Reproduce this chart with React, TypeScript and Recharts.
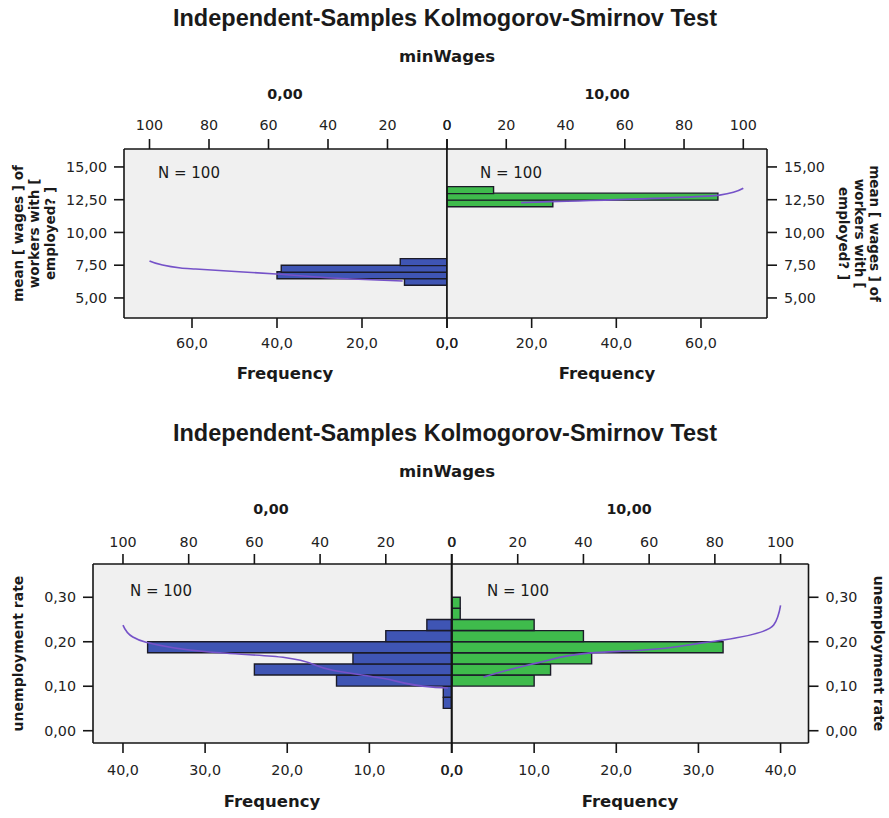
import React from "react";
import {
  Bar,
  CartesianGrid,
  ComposedChart,
  Line,
  ReferenceLine,
  XAxis,
  YAxis,
} from "recharts";

// mean wages, histogram per minWages group (bin start, count)
const wageBinWidth = 0.5;
const wageBins0 = [6.0, 6.5, 7.0, 7.5];
const wageCounts0 = [10, 40, 39, 11];
const wageBins10 = [12.0, 12.5, 13.0];
const wageCounts10 = [25, 64, 11];

// cumulative percent curves for mean wages
const wageCurvePct0 = [14.9, 31.8, 57.4, 84.5, 89.5, 100];
const wageCurveVal0 = [6.3, 6.45, 6.83, 7.21, 7.29, 7.82];
const wageCurvePct10 = [25, 35, 92, 100];
const wageCurveVal10 = [12.28, 12.35, 12.85, 13.37];

// unemployment rate, histogram per minWages group
const unempBinWidth = 0.025;
const unempBins0 = [0.05, 0.075, 0.1, 0.125, 0.15, 0.175, 0.2, 0.225];
const unempCounts0 = [1, 1, 14, 24, 12, 37, 8, 3];
const unempBins10 = [0.1, 0.125, 0.15, 0.175, 0.2, 0.225, 0.25, 0.275];
const unempCounts10 = [10, 12, 17, 33, 16, 10, 1, 1];

const unempCurvePct0 = [1.1, 5.6, 20.9, 36.1, 51.3, 74.5, 93, 97, 100];
const unempCurveVal0 = [0.096, 0.098, 0.118, 0.136, 0.165, 0.1775, 0.199, 0.2106, 0.2375];
const unempCurvePct10 = [9.6, 26.9, 42.2, 57.4, 75.6, 82.6, 97.9, 100];
const unempCurveVal10 = [0.1207, 0.154, 0.175, 0.181, 0.197, 0.204, 0.2375, 0.282];

// axis ticks
const pctTicks = [0, 20, 40, 60, 80, 100];
const wageFreqTicks = [0, 20, 40, 60];
const wageTicks = [5, 7.5, 10, 12.5, 15];
const unempFreqTicks = [0, 10, 20, 30, 40];
const unempTicks = [0, 0.1, 0.2, 0.3];

const groupLabels = ["0,00", "10,00"];
const title = "Independent-Samples Kolmogorov-Smirnov Test";

const BLUE = "#3f55b4";
const GREEN = "#3fbb4c";
const CURVE = "#7552c8";
const INK = "#151515";
const YW = 64;
const AXH = 40;
const GAP = 24; // room past the centre line so the 0 labels aren't clipped

const comma = (v: number, d: number) => v.toFixed(d).replace(".", ",");

type PanelProps = {
  side: "left" | "right";
  plotX: number;
  plotY: number;
  plotW: number;
  plotH: number;
  bins: number[];
  counts: number[];
  binWidth: number;
  curvePct: number[];
  curveVal: number[];
  color: string;
  freqMax: number;
  freqAt100: number;
  freqTicks: number[];
  yDomain: [number, number];
  yTicks: number[];
  topMargin: number;
  bottomMargin: number;
};

function Panel(p: PanelProps) {
  const left = p.side === "left";
  const bars = p.bins.map((b, i) => ({ mid: b + p.binWidth / 2, freq: p.counts[i] }));
  const curve = p.curvePct.map((c, i) => ({ pct: c, v: p.curveVal[i] }));
  const tick = { fill: "#222", fontSize: 14.3, fontFamily: "DejaVu Sans" };
  const line = { stroke: INK, strokeWidth: 1.6 };
  return (
    <div
      style={{
        position: "absolute",
        left: left ? p.plotX - YW : p.plotX - GAP,
        top: p.plotY - AXH,
      }}
    >
      <ComposedChart
        width={YW + p.plotW + GAP}
        height={AXH * 2 + p.plotH}
        layout="vertical"
        data={bars}
        barCategoryGap={0}
        barGap={0}
        margin={{ top: 0, bottom: 0, left: left ? 0 : GAP, right: left ? GAP : 0 }}
      >
        <XAxis
          xAxisId="freq"
          type="number"
          orientation="bottom"
          domain={[0, p.freqMax]}
          reversed={left}
          ticks={p.freqTicks}
          interval={0}
          allowDataOverflow
          tickFormatter={(v: number) => comma(v, 1)}
          height={AXH}
          tickSize={10}
          tickMargin={p.bottomMargin}
          tick={tick}
          tickLine={line}
          axisLine={line}
        />
        <XAxis
          xAxisId="pct"
          type="number"
          orientation="top"
          domain={[0, (100 * p.freqMax) / p.freqAt100]}
          reversed={left}
          ticks={pctTicks}
          interval={0}
          allowDataOverflow
          height={AXH}
          tickSize={10}
          tickMargin={p.topMargin}
          tick={tick}
          tickLine={line}
          axisLine={line}
        />
        <YAxis
          yAxisId="bin"
          type="number"
          dataKey="mid"
          orientation={left ? "left" : "right"}
          domain={p.yDomain}
          reversed
          ticks={p.yTicks}
          interval={0}
          allowDataOverflow
          tickFormatter={(v: number) => comma(v, 2)}
          width={YW}
          tickSize={10}
          tickMargin={7}
          tick={tick}
          tickLine={line}
          axisLine={line}
        />
        <YAxis yAxisId="curve" type="number" dataKey="v" domain={p.yDomain} reversed allowDataOverflow hide />
        <CartesianGrid xAxisId="freq" yAxisId="bin" horizontal={false} vertical={false} fill="#f0f0f0" />
        <Bar
          xAxisId="freq"
          yAxisId="bin"
          dataKey="freq"
          fill={p.color}
          stroke="#1b1b28"
          strokeWidth={1.4}
          isAnimationActive={false}
        />
        <Line
          xAxisId="pct"
          yAxisId="curve"
          data={curve}
          dataKey="pct"
          type="monotone"
          stroke={CURVE}
          strokeWidth={1.6}
          dot={false}
          isAnimationActive={false}
        />
        <ReferenceLine xAxisId="freq" yAxisId="bin" x={0} stroke={INK} strokeWidth={1.6} />
      </ComposedChart>
    </div>
  );
}

const bold = { fontFamily: "DejaVu Sans", fontWeight: 700, fill: "#1a1a1a" } as const;

function Labels() {
  const yLines = ["mean [ wages ] of", "workers with [", "employed? ]"];
  return (
    <svg
      width={889}
      height={818}
      style={{ position: "absolute", left: 0, top: 0, pointerEvents: "none" }}
    >
      {[0, 415].map((dy) => (
        <g key={dy}>
          <text x={445} y={26 + dy} textAnchor="middle" fontFamily="Liberation Sans" fontWeight={700} fontSize={23.5} fill="#1a1a1a">
            {title}
          </text>
          <text x={447} y={62 + dy} textAnchor="middle" fontSize={16.5} {...bold}>
            minWages
          </text>
        </g>
      ))}
      {/* group headers */}
      <text x={285} y={99} textAnchor="middle" fontSize={14.3} {...bold}>{groupLabels[0]}</text>
      <text x={607} y={99} textAnchor="middle" fontSize={14.3} {...bold}>{groupLabels[1]}</text>
      <text x={271} y={514} textAnchor="middle" fontSize={14.3} {...bold}>{groupLabels[0]}</text>
      <text x={629} y={514} textAnchor="middle" fontSize={14.3} {...bold}>{groupLabels[1]}</text>
      {/* Frequency titles */}
      <text x={285} y={379} textAnchor="middle" fontSize={16.5} {...bold}>Frequency</text>
      <text x={607} y={379} textAnchor="middle" fontSize={16.5} {...bold}>Frequency</text>
      <text x={272} y={807} textAnchor="middle" fontSize={16.5} {...bold}>Frequency</text>
      <text x={630} y={807} textAnchor="middle" fontSize={16.5} {...bold}>Frequency</text>
      {/* counts */}
      <g fontFamily="DejaVu Sans" fontSize={15} fill="#1a1a1a">
        <text x={158} y={178}>N = 100</text>
        <text x={480} y={178}>N = 100</text>
        <text x={130} y={596}>N = 100</text>
        <text x={487} y={596}>N = 100</text>
      </g>
      {/* y titles */}
      {yLines.map((t, i) => (
        <text key={"l" + i} transform={`translate(${22.5 + i * 16},233.5) rotate(-90)`} textAnchor="middle" fontSize={13.5} {...bold}>
          {t}
        </text>
      ))}
      {yLines.map((t, i) => (
        <text key={"r" + i} transform={`translate(${870 - i * 15.5},233.5) rotate(90)`} textAnchor="middle" fontSize={13.5} {...bold}>
          {t}
        </text>
      ))}
      <text transform="translate(23,653.5) rotate(-90)" textAnchor="middle" fontSize={14} {...bold}>unemployment rate</text>
      <text transform="translate(874,653.5) rotate(90)" textAnchor="middle" fontSize={14} {...bold}>unemployment rate</text>
    </svg>
  );
}

export default function App() {
  return (
    <div style={{ position: "absolute", left: 0, top: 0, width: 889, height: 818, background: "#fff" }}>
      <Panel
        side="left" plotX={124} plotY={149} plotW={323} plotH={169}
        bins={wageBins0} counts={wageCounts0} binWidth={wageBinWidth}
        curvePct={wageCurvePct0} curveVal={wageCurveVal0} color={BLUE}
        freqMax={76} freqAt100={70} freqTicks={wageFreqTicks}
        yDomain={[3.47, 16.37]} yTicks={wageTicks} topMargin={9} bottomMargin={10}
      />
      <Panel
        side="right" plotX={447} plotY={149} plotW={320} plotH={169}
        bins={wageBins10} counts={wageCounts10} binWidth={wageBinWidth}
        curvePct={wageCurvePct10} curveVal={wageCurveVal10} color={GREEN}
        freqMax={75.6} freqAt100={70} freqTicks={wageFreqTicks}
        yDomain={[3.47, 16.37]} yTicks={wageTicks} topMargin={9} bottomMargin={10}
      />
      <Panel
        side="left" plotX={93} plotY={564} plotW={358.5} plotH={179}
        bins={unempBins0} counts={unempCounts0} binWidth={unempBinWidth}
        curvePct={unempCurvePct0} curveVal={unempCurveVal0} color={BLUE}
        freqMax={43.65} freqAt100={40} freqTicks={unempFreqTicks}
        yDomain={[-0.0276, 0.3748]} yTicks={unempTicks} topMargin={7} bottomMargin={12}
      />
      <Panel
        side="right" plotX={451.5} plotY={564} plotW={356.5} plotH={179}
        bins={unempBins10} counts={unempCounts10} binWidth={unempBinWidth}
        curvePct={unempCurvePct10} curveVal={unempCurveVal10} color={GREEN}
        freqMax={43.4} freqAt100={40} freqTicks={unempFreqTicks}
        yDomain={[-0.0276, 0.3748]} yTicks={unempTicks} topMargin={7} bottomMargin={12}
      />
      <Labels />
    </div>
  );
}
